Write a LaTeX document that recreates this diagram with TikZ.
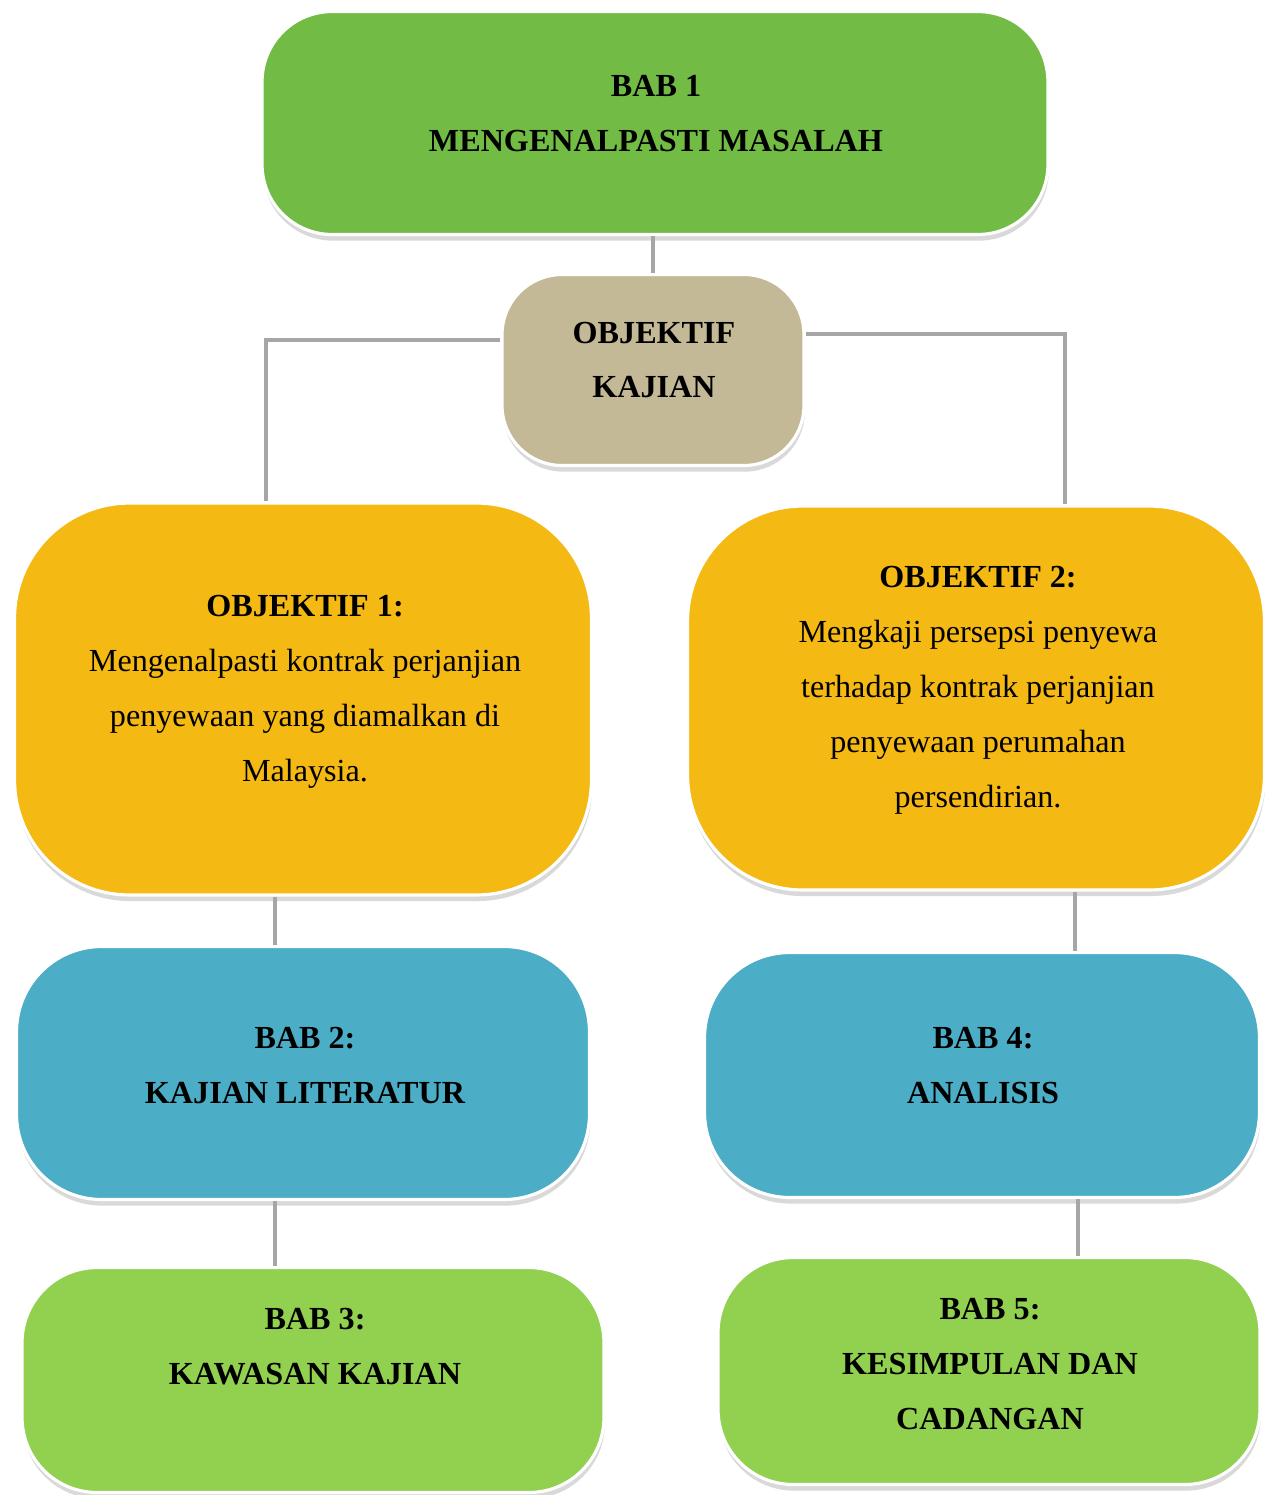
\documentclass[tikz,border=0pt]{standalone}
\usepackage{fontspec}
\setmainfont{Liberation Serif}
\usetikzlibrary{shadows}
\definecolor{topgreen}{HTML}{72BC45}
\definecolor{tan}{HTML}{C4B997}
\definecolor{amber}{HTML}{F5B914}
\definecolor{teal}{HTML}{4BADC6}
\definecolor{lime}{HTML}{92D050}
\definecolor{linegrey}{HTML}{A6A6A6}
\tikzset{box/.style={rectangle,rounded corners=#1,draw=white,line width=1.8pt,inner sep=0pt,
    drop shadow={shadow xshift=0.5pt,shadow yshift=-3.5pt,fill=black!50,opacity=0.3}},
  box/.default=1.4cm}
\tikzset{txt/.style={align=center,inner sep=0pt,font=\fontsize{18.3}{31.3}\selectfont}}
\tikzset{btxt/.style={txt,font=\fontsize{18.3}{31.3}\selectfont\bfseries}}
\tikzset{lnk/.style={draw=linegrey,line width=2.2pt}}

\begin{document}
\begin{tikzpicture}[x=0.02cm,y=-0.02cm]
        \useasboundingbox (0,0) rectangle (1273,1495);

        \node[box=1.4cm,fill=topgreen,minimum width=15.72cm,minimum height=4.46cm] (bab1) at (655,123) {};
        \node[box=1.2cm,fill=tan,minimum width=6.04cm,minimum height=3.82cm] (okaj) at (653,370) {};
        \node[box=2.3cm,fill=amber,minimum width=11.54cm,minimum height=7.84cm] (obj1) at (303,699) {};
        \node[box=2.3cm,fill=amber,minimum width=11.54cm,minimum height=7.68cm] (obj2) at (976,698) {};
        \node[box=1.7cm,fill=teal,minimum width=11.46cm,minimum height=5.06cm] (bab2) at (303,1073) {};
        \node[box=1.7cm,fill=teal,minimum width=11.1cm,minimum height=4.9cm] (bab4) at (982,1075) {};
        \node[box=1.5cm,fill=lime,minimum width=11.64cm,minimum height=4.5cm] (bab3) at (313,1380) {};
        \node[box=1.5cm,fill=lime,minimum width=10.84cm,minimum height=4.54cm] (bab5) at (989,1371) {};

        \node[btxt] (bab1t) at (656,114) {BAB 1\\MENGENALPASTI MASALAH};
        \node[btxt] (okajt) at (654,360) {OBJEKTIF\\KAJIAN};
        \node[txt] (obj1t) at (305,692) {\textbf{OBJEKTIF 1:}\\Mengenalpasti kontrak perjanjian\\penyewaan yang diamalkan di\\Malaysia.};
        \node[txt] (obj2t) at (978,690) {\textbf{OBJEKTIF 2:}\\Mengkaji persepsi penyewa\\terhadap kontrak perjanjian\\penyewaan perumahan\\persendirian.};
        \node[btxt] (bab2t) at (305,1065) {BAB 2:\\KAJIAN LITERATUR};
        \node[btxt] (bab4t) at (983,1066) {BAB 4:\\ANALISIS};
        \node[btxt] (bab3t) at (315,1347) {BAB 3:\\KAWASAN KAJIAN};
        \node[btxt] (bab5t) at (990,1364) {BAB 5:\\KESIMPULAN DAN\\CADANGAN};

        % connectors
        \draw[lnk] (bab1.south -| okaj.north) -- (okaj.north);
        \draw[lnk] ([yshift=0.6cm]okaj.west) -| ([xshift=-0.74cm]obj1.north);
        \draw[lnk] ([yshift=0.72cm]okaj.east) -| ([xshift=1.78cm]obj2.north);
        \draw[lnk] ([xshift=-0.56cm]obj1.south) -- ([xshift=-0.56cm]bab2.north);
        \draw[lnk] ([xshift=-0.56cm]bab2.south) -- ([xshift=-0.56cm]bab2.south |- bab3.north);
        \draw[lnk] ([xshift=1.98cm]obj2.south) -- ([xshift=1.98cm]obj2.south |- bab4.north);
        \draw[lnk] ([xshift=1.92cm]bab4.south) -- ([xshift=1.92cm]bab4.south |- bab5.north);
    \end{tikzpicture}
\end{document}
